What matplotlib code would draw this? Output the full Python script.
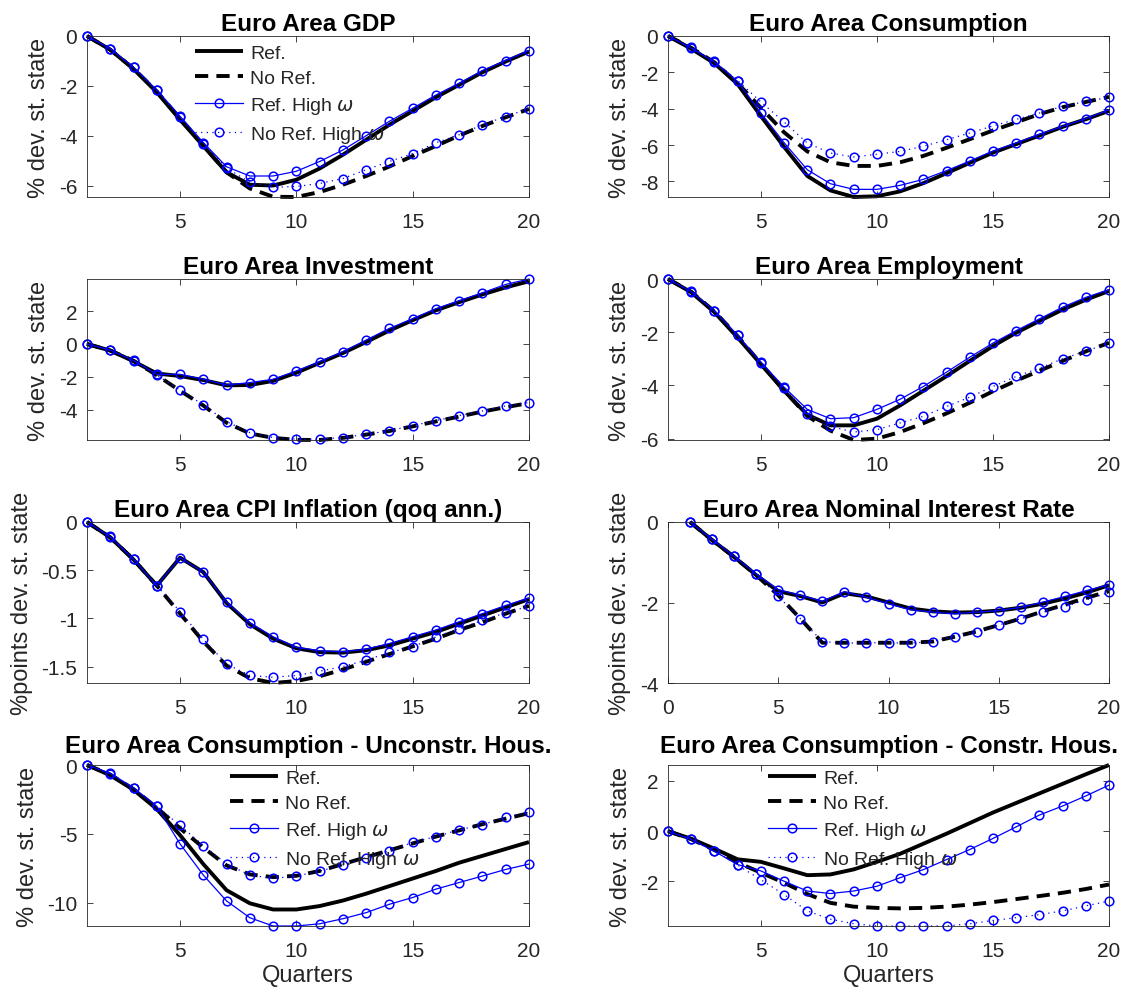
import numpy as np
import matplotlib
matplotlib.use("Agg")
import matplotlib.pyplot as plt

plt.rcParams['font.family'] = ['Liberation Sans', 'DejaVu Sans']
plt.rcParams['mathtext.fontset'] = 'dejavusans'

quarters = np.arange(1, 21)

# impulse responses, one list per model variant
gdp_ref = [0, -0.55, -1.32, -2.25, -3.35, -4.4, -5.45, -5.95, -5.98, -5.75,
           -5.3, -4.75, -4.15, -3.55, -3.0, -2.45, -1.95, -1.45, -1.02, -0.62]
gdp_noref = [0, -0.55, -1.3, -2.22, -3.3, -4.38, -5.45, -6.1, -6.43, -6.44,
             -6.24, -5.95, -5.6, -5.22, -4.8, -4.4, -3.98, -3.6, -3.25, -2.92]
gdp_ref_hw = [0, -0.51, -1.25, -2.16, -3.21, -4.26, -5.23, -5.6, -5.6, -5.41,
              -5.02, -4.56, -3.99, -3.41, -2.89, -2.36, -1.89, -1.38, -0.98, -0.58]
gdp_noref_hw = [0, -0.5, -1.25, -2.15, -3.25, -4.3, -5.28, -5.85, -6.05, -6.02,
                -5.9, -5.7, -5.35, -5.02, -4.7, -4.27, -3.95, -3.55, -3.22, -2.9]

cons_ref = [0, -0.7, -1.5, -2.65, -4.4, -6.1, -7.7, -8.5, -8.86, -8.82,
            -8.55, -8.1, -7.55, -6.98, -6.42, -5.95, -5.48, -5.0, -4.58, -4.12]
cons_noref = [0, -0.65, -1.45, -2.6, -3.95, -5.3, -6.35, -6.95, -7.15, -7.15,
              -6.95, -6.6, -6.15, -5.68, -5.2, -4.75, -4.3, -3.92, -3.63, -3.35]
cons_ref_hw = [0, -0.66, -1.43, -2.5, -4.24, -5.87, -7.36, -8.13, -8.44, -8.44,
               -8.22, -7.89, -7.41, -6.88, -6.33, -5.89, -5.41, -4.97, -4.55, -4.06]
cons_noref_hw = [0, -0.62, -1.4, -2.45, -3.63, -4.73, -5.89, -6.44, -6.66, -6.51,
                 -6.35, -6.07, -5.71, -5.34, -4.95, -4.59, -4.24, -3.87, -3.6, -3.38]

inv_ref = [0, -0.4, -1.05, -1.8, -1.95, -2.2, -2.52, -2.5, -2.25, -1.75,
           -1.15, -0.55, 0.12, 0.82, 1.45, 2.05, 2.55, 3.02, 3.45, 3.82]
inv_noref = [0, -0.4, -1.02, -1.9, -2.85, -3.75, -4.8, -5.45, -5.72, -5.84,
             -5.85, -5.72, -5.52, -5.3, -5.02, -4.72, -4.42, -4.12, -3.85, -3.6]
inv_ref_hw = [0, -0.37, -1.01, -1.85, -1.85, -2.15, -2.5, -2.35, -2.15, -1.64,
              -1.08, -0.47, 0.24, 0.95, 1.54, 2.15, 2.64, 3.12, 3.63, 3.96]
inv_noref_hw = [0, -0.37, -1.0, -1.9, -2.8, -3.71, -4.73, -5.4, -5.7, -5.8,
                -5.8, -5.7, -5.5, -5.29, -4.97, -4.67, -4.36, -4.08, -3.77, -3.57]

emp_ref = [0, -0.5, -1.25, -2.2, -3.2, -4.2, -5.1, -5.5, -5.5, -5.25,
           -4.75, -4.2, -3.65, -3.08, -2.52, -2.02, -1.58, -1.15, -0.78, -0.45]
emp_noref = [0, -0.48, -1.22, -2.15, -3.18, -4.18, -5.15, -5.7, -6.05, -6.0,
             -5.75, -5.42, -5.05, -4.65, -4.22, -3.82, -3.45, -3.08, -2.72, -2.4]
emp_ref_hw = [0, -0.48, -1.19, -2.12, -3.12, -4.06, -4.9, -5.25, -5.21, -4.9,
              -4.52, -4.04, -3.5, -2.94, -2.41, -1.94, -1.5, -1.06, -0.69, -0.4]
emp_noref_hw = [0, -0.45, -1.2, -2.12, -3.15, -4.1, -5.06, -5.54, -5.75, -5.66,
                -5.41, -5.16, -4.79, -4.44, -4.04, -3.66, -3.35, -3.0, -2.71, -2.41]

cpi_ref = [0, -0.16, -0.39, -0.66, -0.37, -0.52, -0.84, -1.06, -1.21, -1.31,
           -1.35, -1.355, -1.33, -1.28, -1.21, -1.14, -1.055, -0.97, -0.885, -0.8]
cpi_noref = [0, -0.16, -0.39, -0.66, -0.95, -1.24, -1.49, -1.62, -1.67, -1.65,
             -1.6, -1.53, -1.45, -1.37, -1.29, -1.21, -1.12, -1.04, -0.95, -0.87]
cpi_ref_hw = [0, -0.154, -0.387, -0.66, -0.37, -0.52, -0.83, -1.045, -1.19, -1.3,
              -1.336, -1.346, -1.318, -1.26, -1.19, -1.12, -1.035, -0.95, -0.866, -0.788]
cpi_noref_hw = [0, -0.15, -0.38, -0.66, -0.93, -1.216, -1.473, -1.592, -1.61, -1.592,
                -1.548, -1.5, -1.432, -1.353, -1.295, -1.192, -1.106, -1.02, -0.942, -0.873]

rate_ref = [0, -0.45, -0.87, -1.32, -1.72, -1.84, -2.0, -1.77, -1.85, -2.0,
            -2.15, -2.22, -2.25, -2.24, -2.2, -2.13, -2.03, -1.9, -1.75, -1.57]
rate_noref = [0, -0.45, -0.87, -1.32, -1.82, -2.4, -3.0, -3.0, -3.0, -3.0,
              -3.0, -2.97, -2.85, -2.72, -2.56, -2.4, -2.22, -2.05, -1.88, -1.72]
rate_ref_hw = [0, -0.43, -0.85, -1.29, -1.68, -1.82, -1.97, -1.73, -1.87, -2.03,
               -2.18, -2.24, -2.28, -2.24, -2.2, -2.12, -1.99, -1.85, -1.7, -1.56]
rate_noref_hw = [0, -0.43, -0.85, -1.29, -1.85, -2.4, -2.97, -3.01, -3.0, -3.0,
                 -3.01, -2.97, -2.85, -2.73, -2.56, -2.4, -2.24, -2.1, -1.93, -1.75]

ucons_ref = [0, -0.75, -1.8, -3.2, -5.1, -7.2, -9.1, -10.05, -10.5, -10.5,
             -10.25, -9.85, -9.35, -8.8, -8.25, -7.7, -7.1, -6.6, -6.1, -5.6]
ucons_noref = [0, -0.7, -1.75, -3.1, -4.6, -6.0, -7.3, -7.95, -8.15, -8.05,
               -7.7, -7.2, -6.7, -6.2, -5.7, -5.2, -4.75, -4.3, -3.9, -3.5]
ucons_ref_hw = [0, -0.6, -1.66, -3.0, -5.73, -8.0, -9.88, -11.1, -11.7, -11.7,
                -11.54, -11.17, -10.73, -10.12, -9.63, -9.02, -8.54, -8.07, -7.59, -7.2]
ucons_noref_hw = [0, -0.62, -1.7, -3.0, -4.39, -5.85, -7.2, -8.0, -8.24, -8.07,
                  -7.71, -7.27, -6.73, -6.24, -5.63, -5.2, -4.71, -4.34, -3.8, -3.44]

ccons_ref = [0, -0.3, -0.7, -1.12, -1.22, -1.48, -1.75, -1.72, -1.52, -1.22,
             -0.9, -0.5, -0.1, 0.32, 0.74, 1.12, 1.5, 1.88, 2.26, 2.63]
ccons_noref = [0, -0.32, -0.75, -1.25, -1.65, -2.05, -2.5, -2.85, -3.0, -3.05,
               -3.07, -3.05, -3.0, -2.92, -2.82, -2.7, -2.58, -2.45, -2.3, -2.12]
ccons_ref_hw = [0, -0.33, -0.8, -1.33, -1.58, -1.99, -2.38, -2.48, -2.38, -2.19,
                -1.85, -1.53, -1.13, -0.73, -0.29, 0.17, 0.64, 1.0, 1.4, 1.83]
ccons_noref_hw = [0, -0.3, -0.78, -1.35, -1.93, -2.52, -3.17, -3.5, -3.68, -3.77,
                  -3.77, -3.77, -3.77, -3.68, -3.55, -3.44, -3.32, -3.17, -2.97, -2.78]

titles = ['Euro Area GDP', 'Euro Area Consumption',
          'Euro Area Investment', 'Euro Area Employment',
          'Euro Area CPI Inflation (qoq ann.)', 'Euro Area Nominal Interest Rate',
          'Euro Area Consumption - Unconstr. Hous.', 'Euro Area Consumption - Constr. Hous.']
ylabels = ['% dev. st. state', '% dev. st. state',
           '% dev. st. state', '% dev. st. state',
           '%points dev. st. state', '%points dev. st. state',
           '% dev. st. state', '% dev. st. state']
series = [
    (gdp_ref, gdp_noref, gdp_ref_hw, gdp_noref_hw),
    (cons_ref, cons_noref, cons_ref_hw, cons_noref_hw),
    (inv_ref, inv_noref, inv_ref_hw, inv_noref_hw),
    (emp_ref, emp_noref, emp_ref_hw, emp_noref_hw),
    (cpi_ref, cpi_noref, cpi_ref_hw, cpi_noref_hw),
    (rate_ref, rate_noref, rate_ref_hw, rate_noref_hw),
    (ucons_ref, ucons_noref, ucons_ref_hw, ucons_noref_hw),
    (ccons_ref, ccons_noref, ccons_ref_hw, ccons_noref_hw),
]
yticks = [[-6, -4, -2, 0], [-8, -6, -4, -2, 0], [-4, -2, 0, 2], [-6, -4, -2, 0],
          [-1.5, -1, -0.5, 0], [-4, -2, 0], [-10, -5, 0], [-2, 0, 2]]
legend_labels = ['Ref.', 'No Ref.', r'Ref. High $\omega$', r'No Ref. High $\omega$']

W, H = 1125, 1003
fig = plt.figure(figsize=(W / 100, H / 100), dpi=100)

col_left = [87, 668]
col_width = [442, 441]
row_top = [37, 280, 523, 766]
ax_h = 161

# legend anchor (axes fraction) for the panels that carry one
legend_pos = {0: (0.244, 0.95), 6: (0.324, 0.975), 7: (0.227, 0.975)}

axis_grey = (0.15, 0.15, 0.15)

for i in range(8):
    r, c = divmod(i, 2)
    rect = [col_left[c] / W, 1 - (row_top[r] + ax_h) / H, col_width[c] / W, ax_h / H]
    ax = fig.add_axes(rect)
    ref, noref, ref_hw, noref_hw = series[i]

    ax.plot(quarters, ref, color='k', lw=2.8, solid_capstyle='butt', clip_on=False)
    ax.plot(quarters, noref, color='k', lw=2.8, dashes=(3.4, 2.1),
            dash_capstyle='butt', clip_on=False)
    ax.plot(quarters, ref_hw, color=(0, 0, 1), lw=0.9, marker='o', ms=6.2,
            mfc='none', mew=1.1, clip_on=False)
    ax.plot(quarters, noref_hw, color=(0, 0, 1), lw=0.9, dashes=(1, 3.5),
            marker='o', ms=6.2, mfc='none', mew=1.1, clip_on=False)

    if i == 5:
        ax.set_xlim(0, 20)
        ax.set_xticks([0, 5, 10, 15, 20])
        ax.set_ylim(-4, 0)
    else:
        ax.set_xlim(1, 20)
        ax.set_xticks([5, 10, 15, 20])
        allv = np.concatenate([np.asarray(s) for s in series[i]])
        ax.set_ylim(allv.min(), allv.max())
    ax.set_yticks(yticks[i])
    ax.set_yticklabels([('%g' % v) for v in yticks[i]])

    # long titles on the last row sit a bit higher, clear of the top tick label
    ax.set_title(titles[i], fontsize=17.5, fontweight='bold',
                 pad=9.5 if r == 3 else 4)
    ax.set_ylabel(ylabels[i], fontsize=17, color=axis_grey, labelpad=6)
    if r == 3:
        ax.set_xlabel('Quarters', fontsize=17, color=axis_grey, labelpad=3)

    ax.tick_params(direction='in', top=True, right=True, length=4,
                   width=0.6, colors=axis_grey, labelsize=15)
    ax.tick_params(axis='x', pad=10.5)
    ax.tick_params(axis='y', pad=7)
    for sp in ax.spines.values():
        sp.set_color(axis_grey)
        sp.set_linewidth(0.6)

    if i in legend_pos:
        leg = ax.legend(ax.lines, legend_labels, loc='upper left',
                        bbox_to_anchor=legend_pos[i], frameon=False,
                        fontsize=14, handlelength=2.47, handletextpad=0.36,
                        labelspacing=0.4, borderpad=0, borderaxespad=0,
                        numpoints=1)
        for t in leg.get_texts():
            t.set_color(axis_grey)

fig.savefig('out.png', dpi=100)
